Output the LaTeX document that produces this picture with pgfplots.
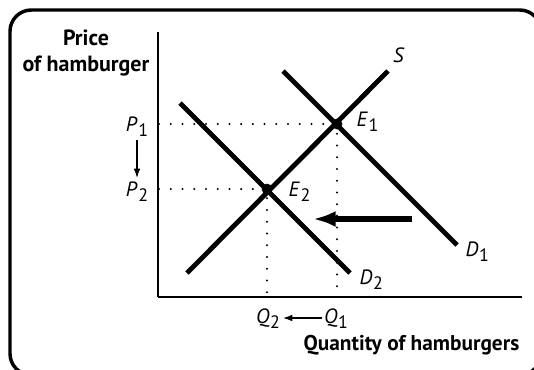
\documentclass[border=0pt]{standalone}
\usepackage{fontspec}
\setmainfont{PT Sans}
\usepackage{pgfplots}
\pgfplotsset{compat=1.18}
\usetikzlibrary{arrows.meta}

% subscript in upright digits, as in the textbook figure
\newcommand{\lab}[2]{\textit{#1}\kern0.5pt\raisebox{-0.5ex}{\normalfont\fontsize{13.5}{16}\selectfont #2}}

\begin{document}
\begin{tikzpicture}[font=\fontsize{15.5}{18}\selectfont]
\begin{axis}[
  scale only axis, width=273pt, height=198.75pt,
  xmin=158, xmax=522, ymin=72, ymax=337,
  axis x line=bottom, axis y line=left,
  axis line style={line width=0.9pt,-},
  xtick=\empty, ytick=\empty,
  clip=false,
]
\coordinate (BL) at (axis cs:0,0);
\coordinate (TR) at (axis cs:534,369);

% dotted guides
\addplot[line width=1.7pt, line cap=round, dash pattern=on 0pt off 8.8pt]
  coordinates {(159,245) (337,245) (337,73)};
\addplot[line width=1.7pt, line cap=round, dash pattern=on 0pt off 8.8pt]
  coordinates {(159,180) (267,180) (267,73)};

% supply and demand
\addplot[line width=3.6pt] coordinates {(187,96) (388,298)};   % S
\addplot[line width=3.6pt] coordinates {(283,298) (457,124)};  % D1
\addplot[line width=3.6pt] coordinates {(180,266) (350,96)};   % D2

% equilibria
\addplot[only marks, mark=*, mark size=3.8pt, black] coordinates {(337,245) (267,180)};

% shift arrow
\addplot[line width=4.3pt, -{Latex[length=17pt,width=12pt]}] coordinates {(412,150) (313,150)};

% small arrows
\addplot[line width=0.9pt, -{Latex[length=7pt,width=5pt]}] coordinates {(137,229) (137,191)};
\addplot[line width=0.9pt, -{Latex[length=7pt,width=5pt]}] coordinates {(322,51) (283,51)};

% labels
\node[font=\fontsize{16.5}{19}\selectfont\bfseries, align=center] at (axis cs:86,316)
  {Price\\of hamburger};
\node[font=\fontsize{16}{18}\selectfont\bfseries, anchor=east] at (axis cs:524,24)
  {Quantity of hamburgers};
\node at (axis cs:399,314) {\textit{S}};
\node[anchor=west] at (axis cs:461,117) {\lab{D}{1}};
\node[anchor=west] at (axis cs:355,89) {\lab{D}{2}};
\node[anchor=west] at (axis cs:352,247) {\lab{E}{1}};
\node[anchor=west] at (axis cs:284,177) {\lab{E}{2}};
\node at (axis cs:137,242) {\lab{P}{1}};
\node at (axis cs:137,177) {\lab{P}{2}};
\node at (axis cs:268,50) {\lab{Q}{2}};
\node at (axis cs:336,50) {\lab{Q}{1}};

% rounded frame, running past the right and bottom edges
\draw[line width=2.6pt, rounded corners=16pt]
  (axis cs:10,-6) -- (axis cs:10,359) -- (axis cs:541,359) -- (axis cs:541,-6) -- cycle;
\end{axis}
\pgfresetboundingbox
\path[use as bounding box] (BL) rectangle (TR);
\end{tikzpicture}
\end{document}
